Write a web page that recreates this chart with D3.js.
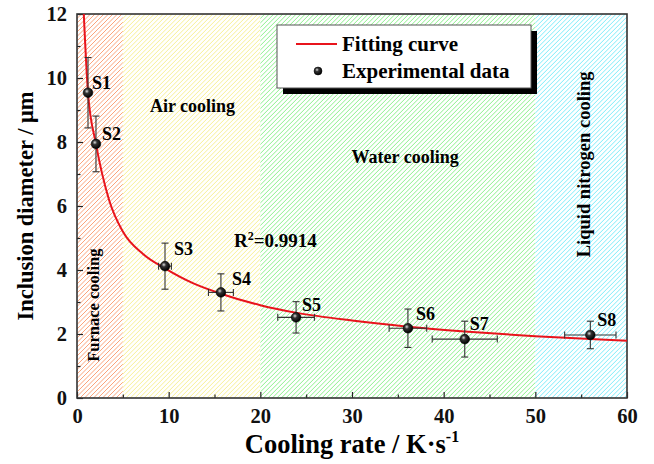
<!DOCTYPE html>
<html><head><meta charset="utf-8">
<script src="https://cdn.jsdelivr.net/npm/d3@7"></script>
<style>body{margin:0;background:#fff}svg{display:block}text{font-family:"Liberation Serif","Times New Roman",serif;font-weight:bold}</style>
</head><body>
<script>
const samples = ["S1","S2","S3","S4","S5","S6","S7","S8"];
const coolingRate = [1.2, 2.07, 9.6, 15.7, 23.9, 36.1, 42.3, 56.0];
const diameter = [9.54, 7.94, 4.12, 3.30, 2.52, 2.18, 1.84, 1.97];
const xErr = [0, 0, 0.7, 1.36, 2.0, 2.05, 3.55, 2.8];
const yErr = [1.1, 0.87, 0.72, 0.58, 0.49, 0.6, 0.56, 0.43];
const fitX = [0.74, 1.2, 2.07, 3.5, 5, 7.2, 9.6, 12.7, 15.7, 20, 24, 30, 36.1, 42.3, 50, 56, 60];
const fitY = [12.0, 9.54, 7.94, 6.19, 5.2, 4.5, 4.05, 3.58, 3.26, 2.9, 2.66, 2.42, 2.23, 2.08, 1.93, 1.84, 1.79];
const regionNames = ["Furnace cooling","Air cooling","Water cooling","Liquid nitrogen cooling"];
const regionStart = [0, 5, 20, 50];
const regionEnd = [5, 20, 50, 60];
const regionColors = ["#fba47c","#f8f092","#8cf08c","#7eecfa"];
const xTicks = [0,10,20,30,40,50,60];
const yTicks = [0,2,4,6,8,10,12];

const W=654,H=464, L=77,R=627,T=14,B=398;
const svg=d3.select("body").append("svg").attr("width",W).attr("height",H);
const x=d3.scaleLinear().domain([0,60]).range([L,R]);
const y=d3.scaleLinear().domain([0,12]).range([B,T]);
const defs=svg.append("defs");
const g=defs.append("radialGradient").attr("id","ball").attr("cx","38%").attr("cy","35%").attr("r","65%");
g.append("stop").attr("offset","0%").attr("stop-color","#ddd");
g.append("stop").attr("offset","35%").attr("stop-color","#333");
g.append("stop").attr("offset","100%").attr("stop-color","#000");

// hatched regions drawn as clipped diagonal lines
const step=4.5;
regionStart.forEach((s,i)=>{
  const x0=x(s), x1=x(regionEnd[i]);
  defs.append("clipPath").attr("id","c"+i).append("rect").attr("x",x0).attr("y",T).attr("width",x1-x0).attr("height",B-T);
  const grp=svg.append("g").attr("clip-path","url(#c"+i+")");
  grp.append("rect").attr("x",x0).attr("y",T).attr("width",x1-x0).attr("height",B-T).attr("fill","#fff");
  let d="";
  for(let k=x0-(B-T); k<=x1; k+=step){ d+=`M${k},${B}L${k+(B-T)},${T}`; }
  grp.append("path").attr("d",d).attr("stroke",regionColors[i]).attr("stroke-width",1).attr("fill","none");
});

// region labels
svg.append("text").attr("transform",`translate(${x(2.35)},${y(2.9)}) rotate(-90)`).attr("text-anchor","middle").attr("font-size",16.5).text(regionNames[0]);
svg.append("text").attr("x",x(12.6)).attr("y",y(8.95)).attr("text-anchor","middle").attr("font-size",18).text(regionNames[1]);
svg.append("text").attr("x",x(35.8)).attr("y",y(7.33)).attr("text-anchor","middle").attr("font-size",18).text(regionNames[2]);
svg.append("text").attr("transform",`translate(${x(55.95)},${y(7.3)}) rotate(-90)`).attr("text-anchor","middle").attr("font-size",18.5).text(regionNames[3]);

// axes
const xa=svg.append("g").attr("transform",`translate(0,${B})`).call(d3.axisBottom(x).tickValues(xTicks).tickSize(-6).tickPadding(10).tickFormat(d3.format("d")));
const ya=svg.append("g").attr("transform",`translate(${L},0)`).call(d3.axisLeft(y).tickValues(yTicks).tickSize(-6).tickPadding(10).tickFormat(d3.format("d")));
svg.append("g").attr("transform",`translate(0,${B})`).call(d3.axisBottom(x).tickValues(d3.range(5,60,10)).tickSize(-3.5).tickFormat(""));
svg.append("g").attr("transform",`translate(${L},0)`).call(d3.axisLeft(y).tickValues(d3.range(1,12,2)).tickSize(-3.5).tickFormat(""));
svg.selectAll(".domain").remove();
svg.selectAll(".tick line").attr("stroke","#222").attr("stroke-width",1.2);
[xa,ya].forEach(a=>a.selectAll("text").attr("font-size",20.5).attr("fill","#111").style("font-family","Liberation Serif").style("font-weight","bold"));
svg.append("rect").attr("x",L).attr("y",T).attr("width",R-L).attr("height",B-T).attr("fill","none").attr("stroke","#333").attr("stroke-width",1.6);

// titles
svg.append("text").attr("x",352).attr("y",453).attr("text-anchor","middle").attr("font-size",26.5).html('Cooling rate / K·s<tspan dy="-11" font-size="16">-1</tspan>');
svg.append("text").attr("transform",`translate(33,${(T+B)/2}) rotate(-90)`).attr("text-anchor","middle").attr("font-size",22.5).text("Inclusion diameter / μm");

// fit curve
const fit=fitX.map((v,i)=>[v,fitY[i]]);
svg.append("path").datum(fit).attr("d",d3.line().x(d=>x(d[0])).y(d=>y(d[1])).curve(d3.curveMonotoneX)).attr("fill","none").attr("stroke","#e8141c").attr("stroke-width",2);

// error bars & points
const data=samples.map((s,i)=>({s,x:coolingRate[i],y:diameter[i],ex:xErr[i],ey:yErr[i]}));
const eb=svg.append("g").attr("stroke","#333").attr("stroke-width",1.1);
data.forEach(d=>{
  if(d.ey>0){
    eb.append("line").attr("x1",x(d.x)).attr("x2",x(d.x)).attr("y1",y(d.y-d.ey)).attr("y2",y(d.y+d.ey));
    [d.y-d.ey,d.y+d.ey].forEach(v=>eb.append("line").attr("x1",x(d.x)-3.5).attr("x2",x(d.x)+3.5).attr("y1",y(v)).attr("y2",y(v)));
  }
  if(d.ex>0){
    eb.append("line").attr("x1",x(d.x-d.ex)).attr("x2",x(d.x+d.ex)).attr("y1",y(d.y)).attr("y2",y(d.y));
    [d.x-d.ex,d.x+d.ex].forEach(v=>eb.append("line").attr("x1",x(v)).attr("x2",x(v)).attr("y1",y(d.y)-3.5).attr("y2",y(d.y)+3.5));
  }
});
svg.append("g").selectAll("circle").data(data).join("circle").attr("cx",d=>x(d.x)).attr("cy",d=>y(d.y)).attr("r",4.8).attr("fill","url(#ball)").attr("stroke","#000").attr("stroke-width",0.6);

const labOff=[[4,-4],[6,-4],[9,-11],[11,-7],[6,-6],[8,-8],[5,-9],[7,-9]];
svg.append("g").selectAll("text").data(data).join("text").attr("x",(d,i)=>x(d.x)+labOff[i][0]).attr("y",(d,i)=>y(d.y)+labOff[i][1]).attr("font-size",18).text(d=>d.s);

// R2
svg.append("text").attr("x",234).attr("y",247).attr("font-size",19).html('R<tspan dy="-7" font-size="12">2</tspan><tspan dy="7">=0.9914</tspan>');

// legend
svg.append("rect").attr("x",283).attr("y",31).attr("width",254).attr("height",63).attr("fill","#000");
svg.append("rect").attr("x",277).attr("y",25).attr("width",254).attr("height",63).attr("fill","#fff").attr("stroke","#555").attr("stroke-width",1);
svg.append("line").attr("x1",296).attr("x2",337).attr("y1",44).attr("y2",44).attr("stroke","#e8141c").attr("stroke-width",2);
svg.append("text").attr("x",342).attr("y",51).attr("font-size",21).text("Fitting curve");
svg.append("circle").attr("cx",318).attr("cy",71).attr("r",4).attr("fill","url(#ball)").attr("stroke","#000").attr("stroke-width",0.5);
svg.append("text").attr("x",342).attr("y",78).attr("font-size",21).text("Experimental data");
</script>
</body></html>
